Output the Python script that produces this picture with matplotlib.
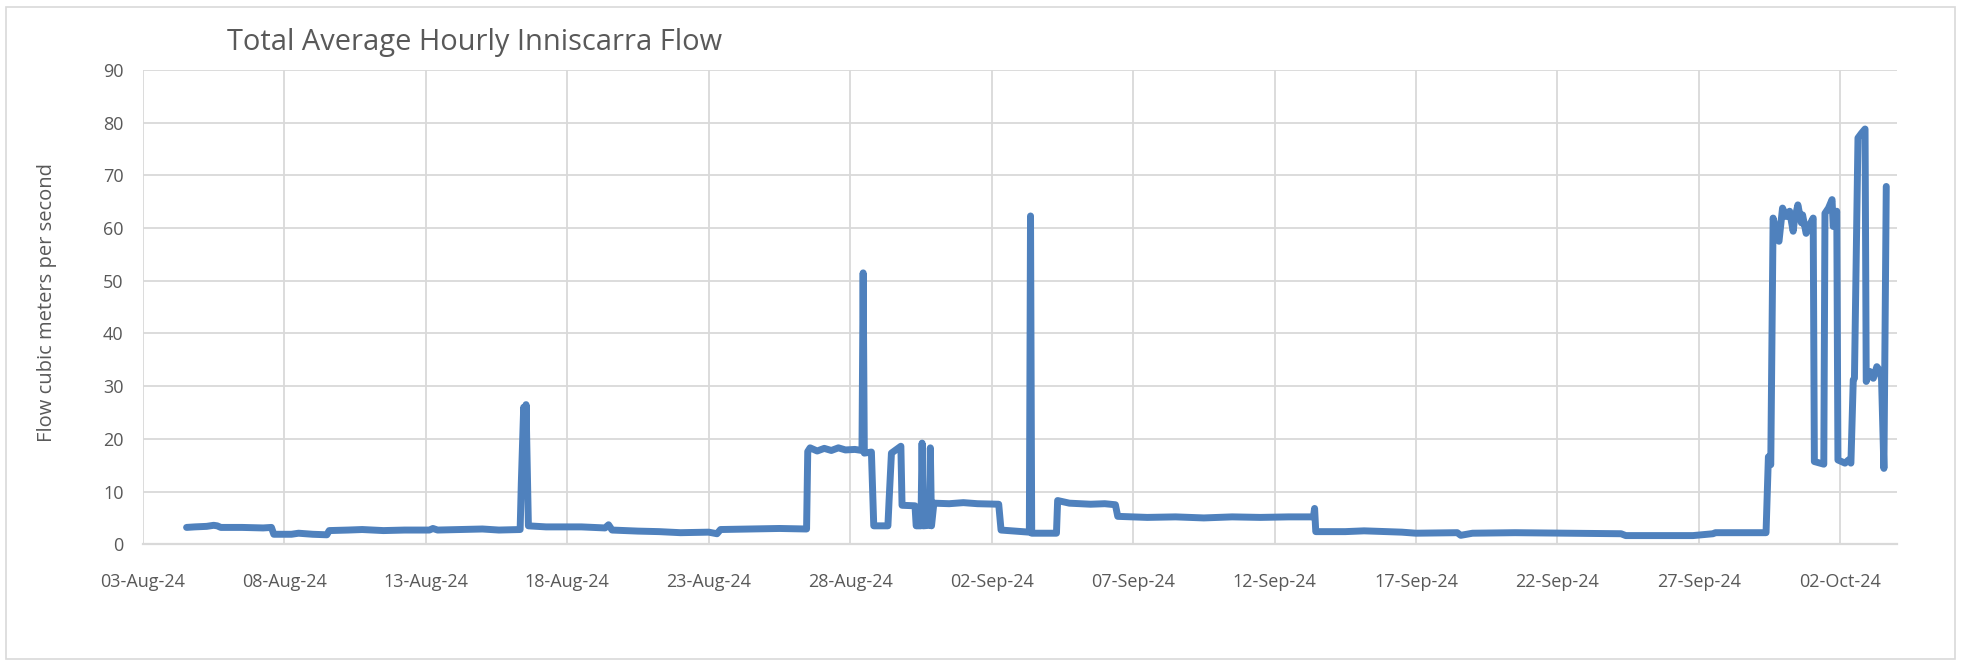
import matplotlib
matplotlib.use("Agg")
import matplotlib.pyplot as plt
import matplotlib.dates as mdates
import pandas as pd
from matplotlib.patches import Rectangle

# hourly flow breakpoints
times = [
    "2024-08-04 13:00", "2024-08-04 20:00", "2024-08-05 06:00", "2024-08-05 12:00",
    "2024-08-05 15:00", "2024-08-05 18:00", "2024-08-06 12:00", "2024-08-07 06:00",
    "2024-08-07 13:00", "2024-08-07 15:00", "2024-08-08 06:00", "2024-08-08 12:00",
    "2024-08-09 00:00", "2024-08-09 12:00", "2024-08-09 14:00", "2024-08-10 06:00",
    "2024-08-10 18:00", "2024-08-11 12:00", "2024-08-12 06:00", "2024-08-13 03:00",
    "2024-08-13 06:00", "2024-08-13 10:00", "2024-08-14 06:00", "2024-08-15 00:00",
    "2024-08-15 14:00", "2024-08-16 08:00", "2024-08-16 09:00", "2024-08-16 11:00",
    "2024-08-16 12:00", "2024-08-16 13:00", "2024-08-16 15:00", "2024-08-17 06:00",
    "2024-08-18 12:00", "2024-08-19 08:00", "2024-08-19 11:00", "2024-08-19 14:00",
    "2024-08-20 12:00", "2024-08-21 06:00", "2024-08-22 00:00", "2024-08-23 00:00",
    "2024-08-23 07:00", "2024-08-23 10:00", "2024-08-24 12:00", "2024-08-25 12:00",
    "2024-08-26 11:00", "2024-08-26 12:00", "2024-08-26 14:00", "2024-08-26 20:00",
    "2024-08-27 02:00", "2024-08-27 08:00", "2024-08-27 14:00", "2024-08-27 20:00",
    "2024-08-28 04:00", "2024-08-28 10:00", "2024-08-28 11:00", "2024-08-28 12:00",
    "2024-08-28 18:00", "2024-08-28 20:00", "2024-08-29 08:00", "2024-08-29 09:00",
    "2024-08-29 11:00", "2024-08-29 19:00", "2024-08-29 20:00", "2024-08-30 07:00",
    "2024-08-30 08:00", "2024-08-30 12:00", "2024-08-30 13:00", "2024-08-30 14:00",
    "2024-08-30 19:00", "2024-08-30 20:00", "2024-08-30 21:00", "2024-08-30 23:00",
    "2024-08-31 12:00", "2024-09-01 00:00", "2024-09-01 12:00", "2024-09-02 06:00",
    "2024-09-02 08:00", "2024-09-02 20:00", "2024-09-03 08:00", "2024-09-03 09:00",
    "2024-09-03 10:00", "2024-09-04 07:00", "2024-09-04 08:00", "2024-09-04 18:00",
    "2024-09-05 12:00", "2024-09-06 00:00", "2024-09-06 09:00", "2024-09-06 11:00",
    "2024-09-07 12:00", "2024-09-08 12:00", "2024-09-09 12:00", "2024-09-10 12:00",
    "2024-09-11 12:00", "2024-09-12 12:00", "2024-09-13 09:00", "2024-09-13 10:00",
    "2024-09-13 11:00", "2024-09-14 12:00", "2024-09-15 04:00", "2024-09-16 12:00",
    "2024-09-17 00:00", "2024-09-18 11:00", "2024-09-18 14:00", "2024-09-19 00:00",
    "2024-09-20 12:00", "2024-09-22 06:00", "2024-09-24 06:00", "2024-09-24 10:00",
    "2024-09-26 19:00", "2024-09-27 12:00", "2024-09-27 14:00", "2024-09-29 09:00",
    "2024-09-29 11:00", "2024-09-29 13:00", "2024-09-29 15:00", "2024-09-29 20:00",
    "2024-09-29 23:00", "2024-09-30 02:00", "2024-09-30 05:00", "2024-09-30 08:00",
    "2024-09-30 09:00", "2024-09-30 12:00", "2024-09-30 15:00", "2024-09-30 16:00",
    "2024-09-30 19:00", "2024-09-30 22:00", "2024-10-01 01:00", "2024-10-01 02:00",
    "2024-10-01 10:00", "2024-10-01 11:00", "2024-10-01 14:00", "2024-10-01 17:00",
    "2024-10-01 18:00", "2024-10-01 21:00", "2024-10-01 22:00", "2024-10-02 04:00",
    "2024-10-02 07:00", "2024-10-02 09:00", "2024-10-02 11:00", "2024-10-02 12:00",
    "2024-10-02 15:00", "2024-10-02 18:00", "2024-10-02 21:00", "2024-10-02 22:00",
    "2024-10-03 01:00", "2024-10-03 04:00", "2024-10-03 07:00", "2024-10-03 10:00",
    "2024-10-03 11:00", "2024-10-03 13:00", "2024-10-03 15:00",
]
flows = [
    3.2, 3.3, 3.4, 3.6,
    3.5, 3.2, 3.2, 3.1,
    3.2, 1.9, 1.9, 2.1,
    1.9, 1.8, 2.6, 2.7,
    2.8, 2.6, 2.7, 2.7,
    3.0, 2.7, 2.8, 2.9,
    2.7, 2.8, 11.7, 26.0,
    13.0, 26.5, 3.5, 3.3,
    3.3, 3.1, 3.7, 2.7,
    2.5, 2.4, 2.2, 2.3,
    2.0, 2.8, 2.9, 3.0,
    2.9, 17.6, 18.3, 17.7,
    18.2, 17.8, 18.3, 17.9,
    18.0, 17.8, 51.5, 17.3,
    17.5, 3.5, 3.5, 8.3,
    17.3, 18.6, 7.4, 7.3,
    3.5, 3.5, 19.2, 3.5,
    3.6, 18.3, 3.5, 7.8,
    7.7, 7.9, 7.7, 7.6,
    2.7, 2.5, 2.3, 62.3,
    2.1, 2.1, 8.3, 7.8,
    7.6, 7.7, 7.5, 5.3,
    5.1, 5.2, 5.0, 5.2,
    5.1, 5.2, 5.2, 6.8,
    2.4, 2.4, 2.55, 2.3,
    2.1, 2.2, 1.7, 2.1,
    2.2, 2.1, 2.0, 1.65,
    1.65, 2.0, 2.2, 2.2,
    16.6, 15.1, 61.9, 57.5,
    63.8, 62.2, 63.2, 59.4,
    61.3, 64.4, 61.0, 62.5,
    59.0, 60.6, 61.9, 15.7,
    15.2, 62.8, 63.8, 65.4,
    60.3, 63.2, 16.0, 15.4,
    16.0, 15.4, 31.2, 31.5,
    77.1, 78.0, 78.8, 30.9,
    32.8, 31.5, 33.7, 32.8,
    31.2, 14.4, 67.9,
]

title = "Total Average Hourly Inniscarra Flow"
y_label = "Flow cubic meters per second"
x_start, x_end = "2024-08-03", "2024-10-04"

df = pd.DataFrame({"time": pd.to_datetime(times), "flow": flows})

plt.rcParams["font.family"] = ["Open Sans", "DejaVu Sans"]
text_col = "#595959"
grid_col = "#D9D9D9"

fig = plt.figure(figsize=(19.61, 6.64), dpi=100)
fig.patches.append(Rectangle((0.003, 0.008), 0.994, 0.982, transform=fig.transFigure,
                             fill=False, edgecolor=grid_col, linewidth=1.2))

ax = fig.add_axes([0.0729, 0.1803, 0.8944, 0.7143])
ax.plot(df["time"], df["flow"], color="#4F81BD", linewidth=5.0,
        solid_joinstyle="round", solid_capstyle="round")

ax.set_xlim(pd.Timestamp(x_start), pd.Timestamp(x_end))
ax.set_ylim(0, 90)
ax.set_yticks(range(0, 91, 10))
ax.set_xticks(pd.date_range(x_start, "2024-10-02", freq="5D"))
ax.xaxis.set_major_formatter(mdates.DateFormatter("%d-%b-%y"))

ax.grid(True, color=grid_col, linewidth=1.3)
ax.set_axisbelow(True)
for side in ["top", "right", "left"]:
    ax.spines[side].set_visible(False)
ax.spines["bottom"].set_color(grid_col)
ax.spines["bottom"].set_linewidth(1.6)
ax.tick_params(axis="both", length=0, labelsize=13, labelcolor=text_col)
ax.tick_params(axis="x", pad=21)
ax.tick_params(axis="y", pad=14)

fig.text(0.0238, 0.5437, y_label, rotation=90, ha="center", va="center",
         fontsize=14.5, color=text_col)
fig.text(0.1158, 0.9247, title, ha="left", va="baseline",
         fontsize=20.9, color=text_col)

fig.savefig("out.png", dpi=100)
